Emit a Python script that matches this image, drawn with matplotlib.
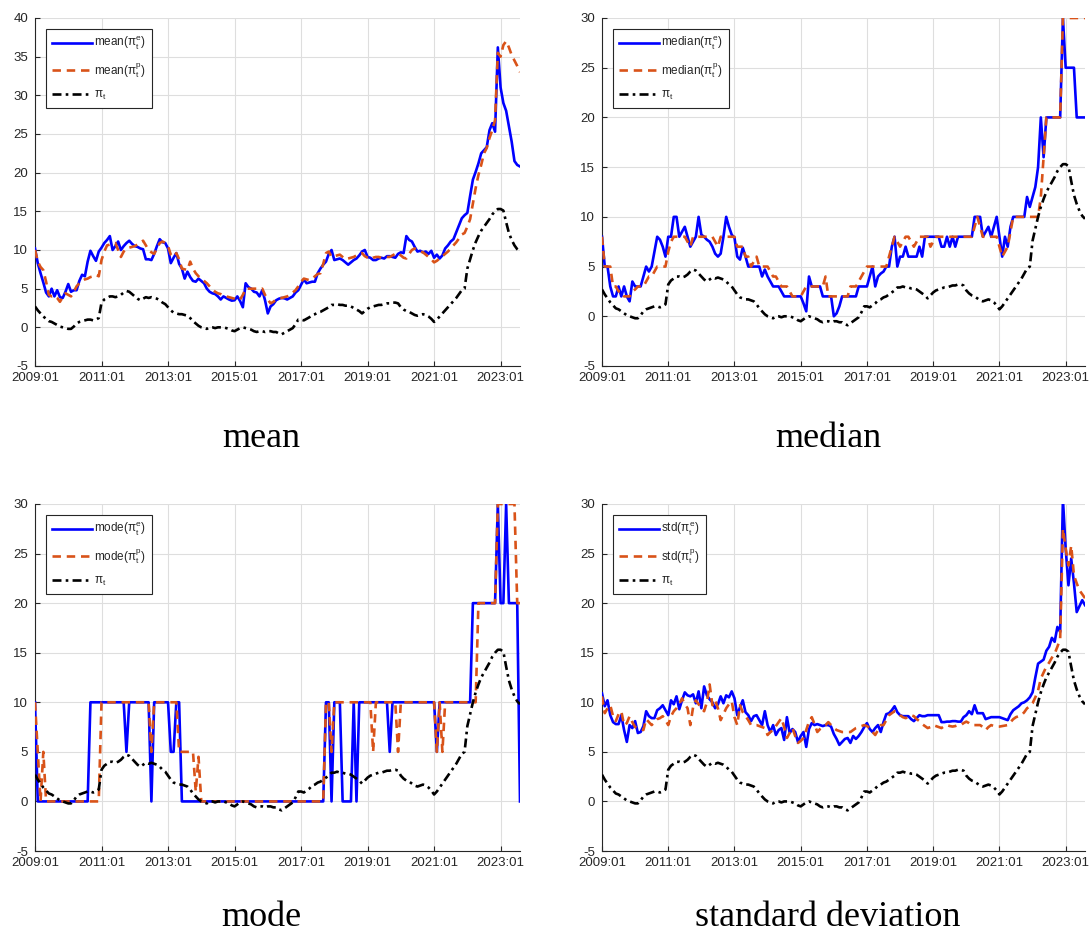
import numpy as np
import matplotlib
matplotlib.use("Agg")
import matplotlib.pyplot as plt

plt.rcParams['font.family'] = ['Liberation Sans', 'DejaVu Sans']
plt.rcParams['mathtext.fontset'] = 'custom'
plt.rcParams['mathtext.rm'] = 'Liberation Sans'
plt.rcParams['mathtext.it'] = 'Liberation Sans'
plt.rcParams['mathtext.bf'] = 'Liberation Sans:bold'
plt.rcParams['axes.unicode_minus'] = False

# monthly data, 2009:01 - 2023:08
pi_t = [
    2.7, 2.2, 1.8, 1.4, 1.1, 0.8, 0.7, 0.5, 0.3, 0.1, 0.0, -0.1,
    -0.2, -0.2, 0.1, 0.5, 0.7, 0.8, 0.9, 1.0, 1.0, 0.9, 1.0, 1.2,
    3.2, 3.6, 3.8, 4.0, 4.0, 3.9, 4.0, 4.2, 4.5, 4.7, 4.6, 4.3,
    4.0, 3.7, 3.5, 3.7, 3.9, 3.8, 3.9, 3.8, 3.7, 3.5, 3.2, 3.0,
    2.6, 2.2, 1.9, 1.8, 1.7, 1.7, 1.6, 1.5, 1.2, 0.8, 0.5, 0.2,
    0.0, -0.1, -0.2, 0.0, 0.0, -0.1, 0.0, 0.0, 0.0, -0.1, -0.2, -0.4,
    -0.5, -0.3, -0.1, 0.0, -0.1, -0.2, -0.3, -0.5, -0.6, -0.5, -0.5, -0.6,
    -0.5, -0.5, -0.6, -0.6, -0.8, -0.9, -0.7, -0.5, -0.3, -0.1, 0.4, 1.0,
    1.0, 0.9, 1.1, 1.3, 1.6, 1.7, 1.9, 2.0, 2.2, 2.4, 2.6, 2.9,
    2.9, 3.0, 2.9, 2.9, 2.8, 2.8, 2.7, 2.5, 2.3, 2.1, 1.8, 2.1,
    2.4, 2.6, 2.7, 2.8, 2.9, 2.9, 3.0, 3.1, 3.1, 3.2, 3.2, 3.1,
    2.6, 2.3, 2.1, 2.0, 1.8, 1.6, 1.5, 1.6, 1.7, 1.6, 1.4, 1.1,
    0.7, 1.0, 1.4, 1.8, 2.2, 2.6, 3.0, 3.4, 3.8, 4.3, 4.8, 5.0,
    7.6, 8.8, 10.0, 11.0, 11.8, 12.5, 13.0, 13.5, 14.0, 14.6, 15.0, 15.3,
    15.3, 15.1, 13.6, 12.2, 11.3, 10.6, 10.1, 9.8,
]

mean_e = [
    10.2, 8.3, 7.0, 5.8, 4.5, 4.0, 5.0, 4.0, 4.8, 3.9, 3.8, 4.6,
    5.6, 4.6, 4.8, 4.8, 6.0, 6.8, 6.6, 8.5, 9.9, 9.2, 8.6, 9.8,
    10.3, 10.9, 11.3, 11.8, 10.0, 10.5, 11.1, 10.0, 10.5, 10.9, 11.2, 10.8,
    10.5, 10.4, 10.2, 10.1, 8.8, 8.8, 8.7, 9.5, 10.5, 11.4, 11.0, 10.9,
    10.2, 8.3, 9.0, 9.6, 8.2, 7.6, 6.3, 7.2, 6.5, 6.0, 5.9, 6.3,
    6.0, 5.7, 5.0, 4.6, 4.4, 4.3, 4.0, 3.6, 4.0, 3.8, 3.6, 3.45,
    3.5, 4.0, 3.4, 2.6, 5.7, 5.2, 5.0, 4.6, 4.5, 4.0, 4.8, 3.5,
    1.8, 2.7, 3.0, 3.5, 3.7, 3.8, 3.75, 3.6, 3.8, 4.0, 4.5, 4.8,
    5.5, 6.2, 5.7, 5.8, 5.9, 5.9, 7.0, 7.6, 8.1, 8.5, 9.5, 10.0,
    8.7, 8.8, 8.9, 8.7, 8.4, 8.1, 8.4, 8.7, 8.9, 9.3, 9.8, 10.0,
    9.1, 9.0, 8.7, 8.7, 8.9, 9.0, 8.9, 9.2, 9.2, 9.1, 9.0, 9.5,
    9.7, 9.6, 11.8, 11.3, 11.1, 10.4, 9.8, 9.9, 9.7, 9.8, 9.5, 9.9,
    9.0, 9.4, 8.9, 9.3, 10.2, 10.6, 11.1, 11.4, 12.3, 13.2, 14.1, 14.5,
    14.8, 17.0, 19.1, 20.1, 21.2, 22.5, 22.9, 23.3, 25.5, 26.4, 25.3, 36.2,
    31.0, 29.0, 28.0, 26.0, 24.0, 21.5, 21.0, 20.8,
]

mean_p = [
    10.0, 8.5, 7.8, 7.4, 5.9, 4.2, 4.0, 4.1, 3.8, 3.3, 3.9, 4.4,
    4.2, 4.0, 4.6, 5.3, 5.7, 6.0, 6.2, 6.3, 6.5, 6.6, 6.8, 6.6,
    8.7, 9.8, 10.6, 10.7, 10.8, 10.9, 10.0, 9.1, 9.8, 10.2, 10.3, 10.4,
    10.5, 10.7, 10.9, 11.2, 10.6, 10.0, 9.7, 9.5, 10.2, 10.9, 11.1, 10.9,
    10.5, 9.4, 9.1, 9.6, 8.8, 7.6, 7.5, 7.4, 8.5, 7.6, 7.0, 6.6,
    6.3, 6.0, 5.7, 5.3, 4.9, 4.6, 4.4, 4.3, 4.1, 4.0, 3.9, 3.8,
    3.7, 3.5, 3.6, 4.2, 5.0, 5.0, 5.0, 5.0, 5.0, 4.9, 5.0, 4.2,
    3.6, 3.1, 3.3, 3.6, 3.75, 3.8, 3.9, 4.0, 4.2, 4.5, 4.8, 5.3,
    5.9, 6.3, 6.2, 6.1, 6.3, 6.6, 6.9, 7.0, 8.2, 9.6, 9.8, 9.1,
    9.2, 9.3, 9.4, 9.1, 8.8, 8.9, 9.0, 9.1, 9.3, 9.5, 9.6, 9.2,
    9.0, 8.8, 9.0, 9.1, 9.1, 9.0, 9.1, 9.1, 9.1, 9.3, 9.5, 9.6,
    9.3, 9.0, 8.9, 9.5, 10.0, 10.2, 10.0, 9.8, 9.7, 9.4, 9.1, 8.8,
    8.4, 8.6, 8.9, 9.2, 9.5, 9.8, 10.2, 10.6, 11.0, 11.5, 12.0, 12.2,
    13.0, 14.0, 16.0, 18.0, 19.7, 21.0, 22.5, 23.2, 24.5, 25.5, 26.8, 35.5,
    35.0, 36.5, 37.0, 36.2, 35.2, 34.5, 33.8, 33.0,
]

median_e = [
    8, 5, 5, 3, 2, 2, 3, 2, 3, 2, 1.5, 3.5,
    3, 3, 3, 4, 5, 4.5, 5, 6.5, 8, 7.7, 7, 6,
    8, 8, 10, 10, 8, 8.5, 9, 8, 7, 7.5, 8, 10,
    8.2, 8, 7.7, 7.5, 7, 6.3, 6, 6.3, 8, 10, 9, 8.2,
    7.9, 6, 5.7, 6.9, 6, 5, 5, 5, 5, 5, 4, 4.7,
    4, 3.5, 3, 3, 3, 2.5, 2, 2, 2, 2, 2, 2,
    2, 1.3, 0.5, 4, 3, 3, 3, 3, 2, 2, 2, 2,
    0, 0.3, 1, 2, 2, 2, 2, 2, 2, 3, 3, 3,
    3, 4, 5, 3, 4, 4.3, 4.5, 5, 5, 7, 8, 5,
    6, 6, 7, 6, 6, 6, 6, 7, 6, 8, 8, 8,
    8, 8, 8, 7, 7, 8, 7, 8, 7, 8, 8, 8,
    8, 8, 8, 10, 10, 10, 8, 8.5, 9, 8, 9, 10,
    8, 6, 8, 7, 9, 10, 10, 10, 10, 10, 12, 11,
    12, 13, 15, 20, 16, 20, 20, 20, 20, 20, 20, 30,
    25, 25, 25, 25, 20, 20, 20, 20,
]

median_p = [
    8, 5, 5, 5, 3, 3, 2.5, 2.5, 2, 2, 2, 2.5,
    2.7, 3, 3, 3, 3.5, 4, 4, 4.5, 5, 5, 5, 5,
    6.5, 7.5, 8, 8, 8, 8, 8, 7.5, 7, 8, 8, 8,
    8, 8, 8, 8, 8, 7.5, 7, 8, 8, 8, 8, 8,
    8, 7, 7, 7, 6, 6, 5, 5.5, 6, 5, 5, 5,
    5, 4.5, 4, 4, 3.5, 3, 3, 3, 2.5, 2, 2, 2,
    2, 2.5, 3, 3, 3, 3, 3, 3, 3, 4, 2, 2,
    2, 2, 2, 2, 2, 2, 3, 3, 3, 3.5, 4, 4.5,
    5, 5, 5, 5, 5, 5, 5, 5, 6, 7, 8, 7.5,
    7, 7.5, 8, 8, 7.5, 7, 7.5, 8, 8, 8, 8, 7,
    7.5, 8, 8, 8, 8, 8, 8, 8, 8, 8, 8, 8,
    8, 8, 8, 9, 10, 9, 8, 8, 8, 8, 8, 8,
    7, 6, 6.5, 7, 8.5, 10, 10, 10, 10, 10, 10, 10,
    10, 10, 10, 12, 16, 20, 20, 20, 20, 20, 20, 30,
    30, 30, 30, 30, 30, 30, 30, 30,
]

mode_e = [
    10, 0, 0, 0, 0, 0, 0, 0, 0, 0, 0, 0,
    0, 0, 0, 0, 0, 0, 0, 0, 10, 10, 10, 10,
    10, 10, 10, 10, 10, 10, 10, 10, 10, 5, 10, 10,
    10, 10, 10, 10, 10, 10, 0, 10, 10, 10, 10, 10,
    10, 5, 5, 10, 10, 0, 0, 0, 0, 0, 0, 0,
    0, 0, 0, 0, 0, 0, 0, 0, 0, 0, 0, 0,
    0, 0, 0, 0, 0, 0, 0, 0, 0, 0, 0, 0,
    0, 0, 0, 0, 0, 0, 0, 0, 0, 0, 0, 0,
    0, 0, 0, 0, 0, 0, 0, 0, 0, 10, 10, 0,
    10, 10, 10, 0, 0, 0, 0, 10, 0, 10, 10, 10,
    10, 10, 10, 10, 10, 10, 10, 10, 5, 10, 10, 10,
    10, 10, 10, 10, 10, 10, 10, 10, 10, 10, 10, 10,
    10, 5, 10, 10, 10, 10, 10, 10, 10, 10, 10, 10,
    10, 10, 20, 20, 20, 20, 20, 20, 20, 20, 20, 30,
    20, 20, 30, 20, 20, 20, 20, 0,
]

mode_p = [
    10, 5, 0, 5, 0, 0, 0, 0, 0, 0, 0, 0,
    0, 0, 0, 0, 0, 0, 0, 0, 0, 0, 0, 0,
    10, 10, 10, 10, 10, 10, 10, 10, 10, 10, 10, 10,
    10, 10, 10, 10, 10, 10, 5, 10, 10, 10, 10, 10,
    10, 10, 10, 10, 5, 5, 5, 5, 5, 5, 1, 4.5,
    0, 0, 0, 0, 0, 0, 0, 0, 0, 0, 0, 0,
    0, 0, 0, 0, 0, 0, 0, 0, 0, 0, 0, 0,
    0, 0, 0, 0, 0, 0, 0, 0, 0, 0, 0, 0,
    0, 0, 0, 0, 0, 0, 0, 0, 0, 10, 10, 5,
    10, 10, 10, 10, 10, 10, 10, 10, 10, 10, 10, 10,
    10, 10, 5, 10, 10, 10, 10, 10, 10, 10, 10, 5,
    10, 10, 10, 10, 10, 10, 10, 10, 10, 10, 10, 10,
    10, 5, 10, 5, 10, 10, 10, 10, 10, 10, 10, 10,
    10, 10, 10, 10, 20, 20, 20, 20, 20, 20, 20, 30,
    30, 30, 30, 30, 30, 30, 20, 20,
]

std_e = [
    10.9, 9.6, 10.2, 8.7, 8.0, 7.8, 7.8, 8.7, 7.2, 6.0, 7.7, 7.4,
    8.1, 6.9, 7.0, 7.6, 9.1, 8.6, 8.4, 8.4, 9.2, 9.4, 9.7, 9.2,
    8.7, 10.2, 9.8, 10.6, 9.3, 10.2, 11.0, 10.7, 10.6, 10.8, 9.9, 11.1,
    9.4, 11.6, 10.7, 10.3, 10.0, 9.4, 9.8, 10.6, 9.9, 10.7, 10.5, 11.1,
    10.4, 8.7, 9.5, 10.2, 9.0, 8.7, 8.1, 8.6, 8.7, 8.2, 7.7, 9.1,
    7.7, 7.0, 7.7, 6.7, 7.2, 7.4, 6.2, 8.5, 6.9, 7.3, 7.0, 6.0,
    6.6, 7.0, 5.5, 7.3, 7.9, 7.7, 7.8, 7.7, 7.6, 7.7, 7.7, 7.55,
    6.8, 6.3, 5.7, 6.0, 6.3, 6.4, 5.9, 6.6, 6.3, 6.6, 7.0, 7.5,
    7.9, 7.3, 7.0, 7.4, 7.7, 7.0, 8.0, 8.8, 8.9, 9.2, 9.6, 9.0,
    8.7, 8.6, 8.6, 8.6, 8.3, 8.1, 8.4, 8.7, 8.6, 8.6, 8.7, 8.7,
    8.7, 8.7, 8.7, 8.0, 8.0, 8.05, 8.05, 8.1, 8.1, 8.05, 8.05, 8.5,
    8.7, 9.1, 8.8, 9.7, 8.9, 8.9, 8.9, 8.3, 8.4, 8.5, 8.5, 8.5,
    8.5, 8.4, 8.3, 8.2, 8.8, 9.2, 9.4, 9.6, 9.9, 10.0, 10.2, 10.5,
    11.0, 12.5, 13.9, 14.1, 14.3, 15.2, 15.6, 16.5, 16.1, 17.6, 17.1, 30.5,
    25.5, 21.8, 24.5, 22.0, 19.1, 19.7, 20.3, 19.8,
]

std_p = [
    10.6, 8.9, 9.4, 9.7, 8.6, 8.1, 8.8, 9.1, 7.7, 7.9, 8.6, 8.0,
    7.5, 7.4, 7.3, 7.2, 8.3, 8.0, 7.7, 8.0, 8.3, 8.4, 8.6, 8.2,
    7.7, 8.6, 9.1, 9.4, 9.8, 10.4, 9.8, 9.4, 7.7, 9.5, 10.2, 9.8,
    9.4, 9.1, 10.0, 11.8, 9.7, 10.2, 9.4, 8.2, 8.8, 9.4, 9.8, 10.1,
    8.5, 7.7, 9.7, 9.0, 8.6, 8.2, 7.7, 7.7, 7.7, 7.6, 7.5, 7.4,
    6.7, 7.0, 7.2, 7.6, 8.0, 8.4, 7.5, 6.4, 6.9, 7.4, 6.6, 5.9,
    6.1, 6.4, 7.2, 8.05, 8.5, 7.8, 7.0, 7.3, 7.5, 7.7, 8.0, 7.7,
    7.4, 7.2, 7.1, 7.0, 7.0, 7.0, 7.0, 7.2, 7.4, 7.5, 7.6, 7.7,
    7.6, 7.4, 7.0, 6.7, 7.2, 7.7, 7.7, 8.2, 8.7, 8.9, 9.1, 9.0,
    8.7, 8.5, 8.4, 8.5, 8.7, 8.6, 8.3, 8.1, 7.8, 7.6, 7.4, 7.5,
    7.7, 7.6, 7.5, 7.4, 7.6, 7.7, 7.6, 7.55, 7.6, 7.7, 7.7, 7.9,
    8.05, 7.9, 7.7, 7.7, 7.7, 7.7, 7.5, 7.2, 7.5, 7.7, 7.6, 7.55,
    7.55, 7.6, 7.65, 7.7, 8.0, 8.3, 8.5, 8.6, 8.7, 9.0, 9.4, 9.6,
    9.9, 10.5, 11.2, 12.4, 13.0, 13.6, 14.0, 14.5, 14.9, 15.6, 16.4, 27.5,
    25.5, 23.8, 25.8, 22.8, 22.0, 21.3, 20.9, 20.5,
]

tick_years = [2009, 2011, 2013, 2015, 2017, 2019, 2021, 2023]
tick_labels = ['%d:01' % y for y in tick_years]

t = 2009 + np.arange(len(pi_t)) / 12.0

TXT = '#262626'
BLUE = '#0000ff'
ORANGE = '#d95319'

fig = plt.figure(figsize=(10.89, 9.35), dpi=100)
W, H = 1089.0, 935.0


def panel(x0, x1, y0, y1, e, p, stat, ymax, title, title_x, title_y):
    ax = fig.add_axes([x0 / W, 1 - y1 / H, (x1 - x0) / W, (y1 - y0) / H])
    ax.plot(t, e, color=BLUE, lw=1.9, label=r'%s($\pi_t^e$)' % stat, zorder=3)
    ax.plot(t, p, color=ORANGE, lw=1.9, dashes=(3.2, 2.2),
            label=r'%s($\pi_t^p$)' % stat, zorder=4)
    ax.plot(t, pi_t, color='black', lw=1.9, dashes=(3.4, 1.6, 1.0, 1.6),
            label=r'$\pi_t$', zorder=5)
    ax.set_xlim(t[0], t[-1])
    ax.set_ylim(-5, ymax)
    ax.set_xticks(tick_years)
    ax.set_xticklabels(tick_labels)
    ax.set_yticks(np.arange(-5, ymax + 1, 5))
    ax.grid(True, color='#dedede', lw=0.8)
    ax.set_axisbelow(True)
    for s in ['top', 'right']:
        ax.spines[s].set_visible(False)
    for s in ['left', 'bottom']:
        ax.spines[s].set_color(TXT)
        ax.spines[s].set_linewidth(0.8)
    ax.tick_params(direction='in', length=3.5, width=0.8, colors=TXT,
                   labelsize=9.5, pad=5)
    ax.tick_params(axis='x', pad=4)
    leg = ax.legend(loc='upper left', bbox_to_anchor=(11 / (x1 - x0), 1 - 11 / (y1 - y0)),
                    borderaxespad=0, fontsize=8.5, handlelength=3.4,
                    handletextpad=0.2, labelspacing=0.75, borderpad=0.5,
                    fancybox=False, framealpha=1, edgecolor=TXT)
    leg.get_frame().set_linewidth(0.8)
    for txt in leg.get_texts():
        txt.set_color(TXT)
    fig.text(title_x / W, 1 - title_y / H, title, ha='center', va='baseline',
             fontsize=26, family='Liberation Serif', color='black')
    return ax


panel(35, 520, 18, 366, mean_e, mean_p, 'mean', 40, 'mean', 261, 447)
panel(602, 1085, 18, 366, median_e, median_p, 'median', 30, 'median', 828, 447)
panel(35, 520, 504, 851, mode_e, mode_p, 'mode', 30, 'mode', 261, 926)
panel(602, 1085, 504, 851, std_e, std_p, 'std', 30, 'standard deviation', 828, 926)

fig.savefig('out.png', dpi=100)
